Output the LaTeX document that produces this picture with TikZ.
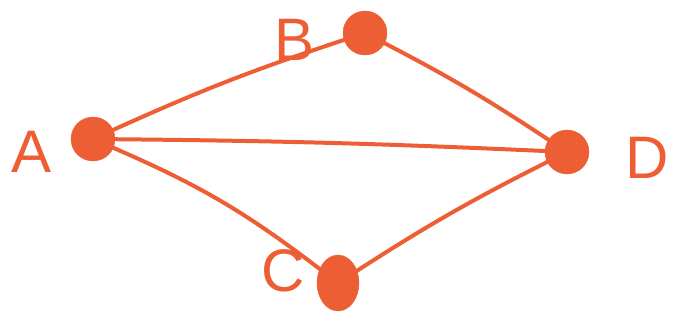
\documentclass[tikz,border=0pt]{standalone}
\usepackage{fontspec}
\setmainfont{Liberation Sans}
\usetikzlibrary{shapes.geometric}
\definecolor{ink}{HTML}{EE5E35}

\begin{document}
\begin{tikzpicture}[
    x=1pt, y=-1pt,
    vertex/.style={
        circle,
        fill=ink,
        draw=ink,
        minimum size=44pt,
        inner sep=0pt
    },
    lbl/.style={text=ink, inner sep=0pt, font=\fontsize{60}{60}\selectfont},
    edge/.style={draw=ink, line width=4pt, line cap=round}
]
\useasboundingbox (0,0) rectangle (686,322);

% Vertices
\node[vertex] (a) at (93,139) {};
\node[vertex] (b) at (365,33) {};
\node[vertex, ellipse, minimum width=42pt, minimum height=56pt] (c) at (338,283) {};
\node[vertex] (d) at (567,152) {};

% Labels
\node[lbl] (la) at (32,152) {A};
\node[lbl] (lb) at (295,40) {B};
\node[lbl] (lc) at (283,271) {C};
\node[lbl] (ld) at (647,158) {D};

% Edges
\draw[edge] (a) to[bend left=3] (b);
\draw[edge] (a) to[bend left=1] (d);
\draw[edge] (a) to[bend left=7] (c);
\draw[edge] (b) to[bend left=3] (d);
\draw[edge] (c) to[bend left=3] (d);

\end{tikzpicture}
\end{document}
